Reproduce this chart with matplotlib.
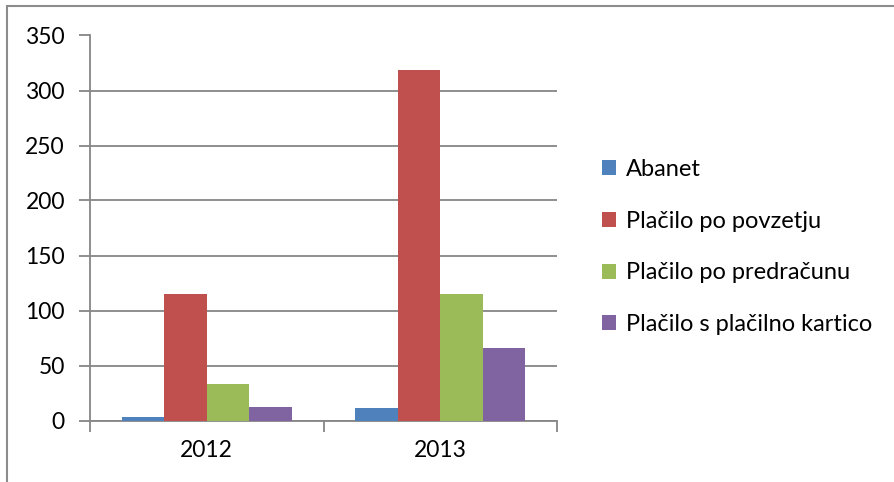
import numpy as np
import matplotlib.pyplot as plt
from matplotlib.patches import Rectangle

# data
years = ['2012', '2013']
series_names = ['Abanet', 'Plačilo po povzetju', 'Plačilo po predračunu', 'Plačilo s plačilno kartico']
abanet = [3, 11]
povzetje = [115, 319]
predracun = [33, 115]
kartica = [12, 66]
colors = ['#4f81bd', '#c0504d', '#9bbb59', '#8064a2']

plt.rcParams['font.family'] = ['Lato', 'DejaVu Sans']

W, H = 894, 482
fig = plt.figure(figsize=(W / 100, H / 100), dpi=100)
ax = fig.add_axes([90 / W, 1 - 420.5 / H, (557 - 90) / W, (420.5 - 35.5) / H])

# outer chart border (only top and left visible in the reference)
fig.patches.append(Rectangle((7 / W, -0.1), 1.2, 1 - 6 / H + 0.1, transform=fig.transFigure,
                             fill=False, edgecolor='#8c8c8c', linewidth=1.5))

x = np.arange(len(years))
width = 1 / 5.5
all_series = [abanet, povzetje, predracun, kartica]
for i, vals in enumerate(all_series):
    ax.bar(x + (i - 1.5) * width, vals, width, color=colors[i], label=series_names[i], zorder=3)

ax.set_xlim(-0.5, 1.5)
ax.set_ylim(0, 350)
ax.set_yticks(range(0, 351, 50))
ax.set_xticks(x)
ax.set_xticklabels(years)
ax.set_xticks([-0.5, 0.5, 1.5], minor=True)
ax.tick_params(axis='x', which='major', length=0, pad=14, labelsize=16.5)
ax.tick_params(axis='x', which='minor', length=8, color='#868686', width=1.3)
ax.tick_params(axis='y', length=8, color='#868686', width=1.3, labelsize=16.5, pad=10)
ax.grid(axis='y', color='#868686', linewidth=1.3, zorder=0)

for s in ['top', 'right']:
    ax.spines[s].set_visible(False)
for s in ['left', 'bottom']:
    ax.spines[s].set_color('#868686')
    ax.spines[s].set_linewidth(1.3)

fig.legend(loc='center left', bbox_to_anchor=(581 / W, 1 - 247 / H), frameon=False, fontsize=17,
           handlelength=0.6, handleheight=0.6, handletextpad=0.4, labelspacing=1.3)

fig.savefig('out.png', dpi=100)
